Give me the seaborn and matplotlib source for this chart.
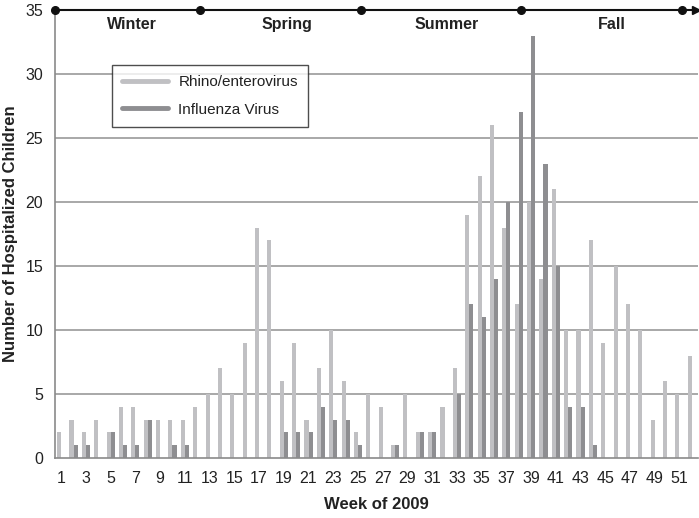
import pandas as pd
import numpy as np
import matplotlib
matplotlib.use('Agg')
import matplotlib.pyplot as plt
from matplotlib.lines import Line2D
import seaborn as sns

WEEKS = list(range(1, 53))
RHINO = [2, 3, 2, 3, 2, 4, 4, 3, 3, 3, 3, 4, 5, 7, 5, 9, 18, 17, 6, 9,
         3, 7, 10, 6, 2, 5, 4, 1, 5, 2, 2, 4, 7, 19, 22, 26, 18, 12, 20, 14,
         21, 10, 10, 17, 9, 15, 12, 10, 3, 6, 5, 8]
FLU = [0, 1, 1, 0, 2, 1, 1, 3, 0, 1, 1, 0, 0, 0, 0, 0, 0, 0, 2, 2,
       2, 4, 3, 3, 1, 0, 0, 1, 0, 2, 2, 0, 5, 12, 11, 14, 20, 27, 33, 23,
       15, 4, 4, 1, 0, 0, 0, 0, 0, 0, 0, 0]
SERIES = ['Rhino/enterovirus', 'Influenza Virus']
COLORS = ['#c0c0c3', '#8e8e91']
SEASONS = ['Winter', 'Spring', 'Summer', 'Fall']
SEASON_LABEL_WEEK = [6.72, 19.26, 32.2, 45.5]
SEASON_BREAKS = [0.5, 12.22, 25.24, 38.17, 51.2]

sns.set_style('white')
plt.rcParams['font.family'] = ['Liberation Sans', 'DejaVu Sans']


def get_df():
    df = pd.DataFrame({'week': WEEKS * 2,
                       'count': RHINO + FLU,
                       'virus': [SERIES[0]] * len(WEEKS) + [SERIES[1]] * len(WEEKS)})
    return df


def main():
    df = get_df()
    fig = plt.figure(figsize=(6.99, 5.18), dpi=100)
    ax = fig.add_axes([0.0787, 0.1158, 0.9199, 0.8649])

    sns.barplot(data=df, x='week', y='count', hue='virus', palette=COLORS,
                hue_order=SERIES, width=0.66, dodge=True, saturation=1,
                edgecolor='none', linewidth=0, legend=False, ax=ax)

    ax.set_xlim(-0.5, 51.5)
    ax.set_ylim(0, 35)
    ax.set_yticks(np.arange(0, 36, 5))
    ax.set_axisbelow(True)
    for v in range(5, 35, 5):
        ax.axhline(v, color='#9a9a9a', lw=1.2, zorder=0)

    # x ticks: labels on odd weeks, marks on week boundaries
    ax.set_xticks(np.arange(0, 52, 2))
    ax.set_xticklabels([str(w) for w in WEEKS[::2]])
    ax.set_xticks(np.arange(-0.5, 52, 1), minor=True)
    ax.tick_params(axis='x', which='major', length=0, labelsize=11.5, pad=9, labelcolor='#222222')
    ax.tick_params(axis='x', which='minor', length=5, width=1, color='#8a8a8a', direction='out')
    ax.tick_params(axis='y', length=5, width=1, color='#8a8a8a', labelsize=11.5,
                   labelcolor='#222222')

    for s in ['top', 'right']:
        ax.spines[s].set_visible(False)
    ax.spines['left'].set_color('#8a8a8a')
    ax.spines['left'].set_linewidth(1.2)
    ax.spines['bottom'].set_color('#8a8a8a')
    ax.spines['bottom'].set_linewidth(1.2)

    # season timeline on top
    xs = [b - 1 for b in SEASON_BREAKS]
    ax.plot([xs[0], 51.2], [35, 35], color='#111111', lw=1.5, clip_on=False, zorder=5)
    ax.plot(xs, [35] * len(xs), 'o', color='#111111', ms=5.5, clip_on=False, zorder=6)
    ax.plot([51.3], [35], marker='>', color='#111111', ms=6, clip_on=False, zorder=6)
    for name, w in zip(SEASONS, SEASON_LABEL_WEEK):
        ax.text(w - 1, 33.85, name, ha='center', va='center', fontsize=11.5,
                fontweight='bold', color='#222222')

    handles = [Line2D([0], [0], color=c, lw=3.5) for c in COLORS]
    leg = ax.legend(handles, SERIES, loc='upper left', bbox_to_anchor=(0.0886, 0.877),
                    borderaxespad=0, fancybox=False, frameon=True, fontsize=11,
                    handlelength=3.0, handletextpad=0.7, labelspacing=0.9,
                    borderpad=0.65)
    leg.get_frame().set_edgecolor('#222222')
    leg.get_frame().set_linewidth(1.0)
    for t in leg.get_texts():
        t.set_color('#222222')

    ax.set_xlabel('Week of 2009', fontsize=12, fontweight='bold', labelpad=8, color='#222222')
    ax.set_ylabel('Number of Hospitalized Children', fontsize=12, fontweight='bold',
                  color='#222222')
    ax.yaxis.set_label_coords(-0.057, 0.5)

    fig.savefig('out.png', dpi=100)
    plt.close(fig)


if __name__ == '__main__':
    main()
